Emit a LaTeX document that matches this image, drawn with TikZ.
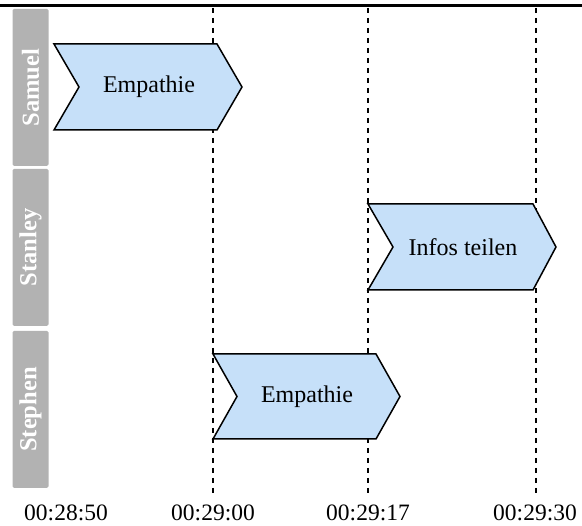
\documentclass[tikz,border=0pt]{standalone}
\usepackage{fontspec}
\setmainfont{Liberation Serif}
\definecolor{laneGray}{RGB}{178,178,178}
\definecolor{actBlue}{RGB}{198,224,249}
\begin{document}
\begin{tikzpicture}[x=1pt,y=-1pt,
  lanebox/.style={fill=laneGray, draw=none, rounded corners=1.5pt, rotate=90,
    minimum width=157pt, minimum height=36pt, inner sep=0pt, text=white,
    font=\fontsize{24.5}{24.5}\selectfont\bfseries},
  activity/.style={draw=black, line width=1.5pt, fill=actBlue, line join=miter},
  acttext/.style={font=\fontsize{24}{24}\selectfont, inner sep=0pt},
  timeline/.style={dash pattern=on 5.5pt off 4.5pt, line width=2pt},
  timelabel/.style={font=\fontsize{23.5}{23.5}\selectfont, anchor=base, inner sep=0pt}]
\useasboundingbox (0,0) rectangle (582,526);

% top rule
\coordinate (ruleL) at (0,5.7);
\coordinate (ruleR) at (582,5.7);
\draw[line width=3.3pt] (ruleL) -- (ruleR);

% time markers
\foreach \n/\x in {a/213,b/368,c/536}{
  \coordinate (\n top) at (\x,8);
  \coordinate (\n bot) at (\x,493);
  \draw[timeline] (\n top) -- (\n bot);
}

% lanes
\node[lanebox] (laneSamuel)  at (30.5,87.5)  {Samuel};
\node[lanebox] (laneStanley) at (30.5,247.5) {Stanley};
\node[lanebox] (laneStephen) at (30.5,409.5) {Stephen};

% activities
\draw[activity] (54,44) -- (217,44) -- (242,87) -- (217,130) -- (54,130) -- (79,87) -- cycle;
\node[acttext] (actSamuel) at (149,87) {Empathie};

\draw[activity] (368,204) -- (533,204) -- (556,247) -- (533,290) -- (368,290) -- (393,247) -- cycle;
\node[acttext] (actStanley) at (463,247) {Infos teilen};

\draw[activity] (213,354) -- (376,354) -- (400,396.5) -- (376,439) -- (213,439) -- (237,396.5) -- cycle;
\node[acttext] (actStephen) at (307,396.5) {Empathie};

% time labels
\node[timelabel] (t0) at (66,520.5)  {00:28:50};
\node[timelabel] (t1) at (213,520.5) {00:29:00};
\node[timelabel] (t2) at (368,520.5) {00:29:17};
\node[timelabel] (t3) at (535,520.5) {00:29:30};
\end{tikzpicture}
\end{document}
